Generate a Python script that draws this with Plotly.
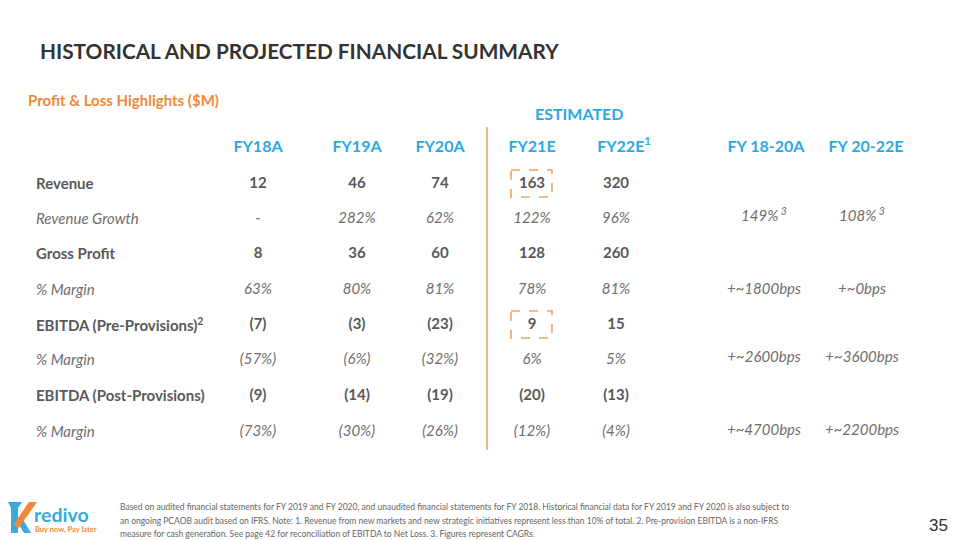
import plotly.graph_objects as go

# ---------------- data ----------------
years = ["FY18A", "FY19A", "FY20A", "FY21E", "FY22E<sup>1</sup>"]
row_labels = ["Revenue", "Revenue Growth", "Gross Profit", "% Margin",
              "EBITDA (Pre-Provisions)<sup>2</sup>", "% Margin",
              "EBITDA (Post-Provisions)", "% Margin"]
revenue = [12, 46, 74, 163, 320]
revenue_growth = [None, 282, 62, 122, 96]
gross_profit = [8, 36, 60, 128, 260]
gross_margin = [63, 80, 81, 78, 81]
ebitda_pre = [-7, -3, -23, 9, 15]
ebitda_pre_margin = [-57, -6, -32, 6, 5]
ebitda_post = [-9, -14, -19, -20, -13]
ebitda_post_margin = [-73, -30, -26, -12, -4]

cagr_periods = ["FY 18-20A", "FY 20-22E"]
revenue_cagr = [149, 108]
gross_margin_change_bps = [1800, 0]
ebitda_pre_margin_change_bps = [2600, 3600]
ebitda_post_margin_change_bps = [4700, 2200]

footnote_lines = [
    "Based on audited financial statements for FY 2019 and FY 2020, and unaudited financial statements for FY 2018. "
    "Historical financial data for FY 2019 and FY 2020 is also subject to",
    "an ongoing PCAOB audit based on IFRS. Note: 1. Revenue from new markets and new strategic initiatives "
    "represent less than 10% of total. 2. Pre-provision EBITDA is a non-IFRS",
    "measure for cash generation. See page 42 for reconciliation of EBITDA to Net Loss. 3. Figures represent CAGRs.",
]

# ---------------- styling / layout constants ----------------
FONT = "Lato"
BLUE = "#2AAAE1"
ORANGE = "#F0883A"
GRAY = "#595959"
GRAY_I = "#6E6E6E"
col_x = [258, 357, 440, 532, 616]
header_x = [258, 357, 440, 532, 624, 766, 866]
cagr_x = [764, 862]
header_y = 146
row_y = [183, 218, 253, 289, 324, 359, 395, 431]
label_x = 34
foot_y = [507, 521, 534]
DY = 1.5  # small vertical correction for scatter-text baseline


def fmt_num(v):
    if v is None:
        return "-"
    return f"({abs(v)})" if v < 0 else f"{v}"


def fmt_pct(v):
    if v is None:
        return "-"
    return f"({abs(v)}%)" if v < 0 else f"{v}%"


rows = [
    (revenue, fmt_num, True),
    (revenue_growth, fmt_pct, False),
    (gross_profit, fmt_num, True),
    (gross_margin, fmt_pct, False),
    (ebitda_pre, fmt_num, True),
    (ebitda_pre_margin, fmt_pct, False),
    (ebitda_post, fmt_num, True),
    (ebitda_post_margin, fmt_pct, False),
]

fig = go.Figure()

# table cells
for (vals, f, bold), y in zip(rows, row_y):
    fig.add_trace(go.Scatter(
        x=col_x, y=[y + DY] * len(vals), mode="text",
        text=[f(v) for v in vals],
        textposition="middle center",
        textfont=dict(family=FONT, size=15, color=GRAY if bold else GRAY_I,
                      weight="bold" if bold else "normal",
                      style="normal" if bold else "italic"),
        hoverinfo="skip", showlegend=False))

# column headers
fig.add_trace(go.Scatter(
    x=header_x, y=[header_y + DY] * 7, mode="text",
    text=years + cagr_periods, textposition="middle center",
    textfont=dict(family=FONT, size=16, color=BLUE, weight="bold"),
    hoverinfo="skip", showlegend=False))

# CAGR / bps column
cagr_rows = [
    ([f"{v}%<sup> 3</sup>" for v in revenue_cagr], row_y[1] - 2),
    ([f"+~{v}bps" for v in gross_margin_change_bps], row_y[3]),
    ([f"+~{v}bps" for v in ebitda_pre_margin_change_bps], row_y[5] - 2),
    ([f"+~{v}bps" for v in ebitda_post_margin_change_bps], row_y[7] - 1),
]
for texts, y in cagr_rows:
    fig.add_trace(go.Scatter(
        x=cagr_x, y=[y + DY] * 2, mode="text", text=texts,
        textposition="middle center",
        textfont=dict(family=FONT, size=15, color=GRAY_I, style="italic"),
        hoverinfo="skip", showlegend=False))

annotations = [
    dict(x=38, y=50, text="<b>HISTORICAL AND PROJECTED FINANCIAL SUMMARY</b>",
         xanchor="left", yanchor="middle",
         font=dict(family=FONT, size=20.8, color="#333333")),
    dict(x=26, y=100, text="<b>Profit &amp; Loss Highlights ($M)</b>",
         xanchor="left", yanchor="middle",
         font=dict(family=FONT, size=15, color=ORANGE)),
    dict(x=579, y=113, text="<b>ESTIMATED</b>", xanchor="center", yanchor="middle",
         font=dict(family=FONT, size=16, color=BLUE)),
    dict(x=950, y=525, text="35", xanchor="right", yanchor="middle",
         font=dict(family="Liberation Sans", size=17, color="#333333")),
    # logo text
    dict(x=32, y=514, text="<b>redivo</b>", xanchor="left", yanchor="middle",
         font=dict(family=FONT, size=19.5, color="#3AA9DC")),
    dict(x=33, y=529, text="<b>Buy now, Pay later</b>", xanchor="left", yanchor="middle",
         font=dict(family=FONT, size=7.5, color=ORANGE)),
]
# row labels
for lab, (vals, f, bold), y in zip(row_labels, rows, row_y):
    txt = f"<b>{lab}</b>" if bold else f"<i>{lab}</i>"
    annotations.append(dict(x=label_x, y=y, text=txt, xanchor="left", yanchor="middle",
                            font=dict(family=FONT, size=15, color=GRAY if bold else GRAY_I)))
for line, y in zip(footnote_lines, foot_y):
    annotations.append(dict(x=118, y=y, text=line, xanchor="left", yanchor="middle",
                            align="left", font=dict(family=FONT, size=8.5, color="#666666")))
for a in annotations:
    a.update(xref="x", yref="y", showarrow=False)

shapes = [
    # vertical separator
    dict(type="line", x0=487, x1=487, y0=127, y1=450,
         line=dict(color="#EDB583", width=2)),
    # dashed highlight boxes
    dict(type="rect", x0=511, x1=552, y0=170, y1=197,
         line=dict(color="#F0A565", width=1.6, dash="dash")),
    dict(type="rect", x0=511, x1=552, y0=311, y1=338,
         line=dict(color="#F0A565", width=1.6, dash="dash")),
    # logo K (blue stem + lower leg, orange upper arm)
    dict(type="path", path="M 8 502 L 22 502 L 18 508 L 18 533 L 11 533 L 11 508 Z",
         fillcolor="#3AA9DC", line=dict(width=0)),
    dict(type="path", path="M 16 520 L 21 516 L 31 533 L 24 533 Z",
         fillcolor="#3AA9DC", line=dict(width=0)),
    dict(type="path", path="M 14 524 L 29 502 L 37 502 L 18 529 Z",
         fillcolor="#F0883A", line=dict(width=0)),
]

fig.update_layout(
    width=960, height=540,
    margin=dict(l=0, r=0, t=0, b=0),
    paper_bgcolor="white", plot_bgcolor="white",
    xaxis=dict(range=[0, 960], visible=False, fixedrange=True),
    yaxis=dict(range=[540, 0], visible=False, fixedrange=True),
    annotations=annotations, shapes=shapes,
    showlegend=False,
)

fig.write_html("out.html", config={"displayModeBar": False},
               post_script="document.body.style.margin='0px';")
